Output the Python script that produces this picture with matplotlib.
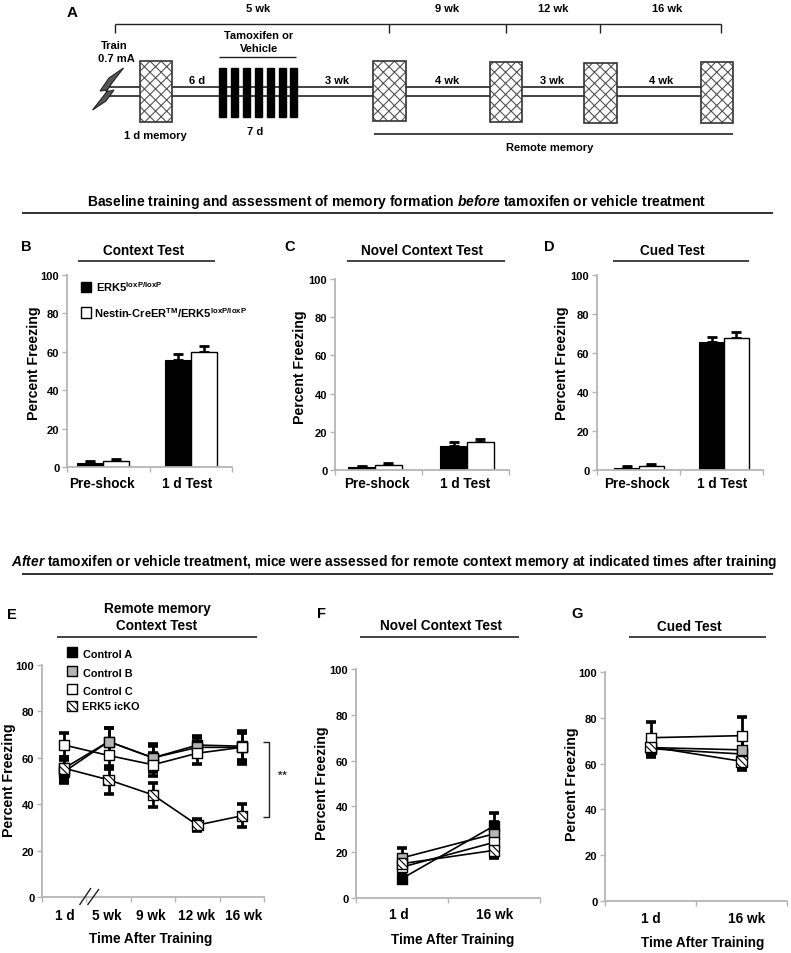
#!/usr/bin/python3
import matplotlib as mpl
mpl.use('Agg')
from matplotlib import pyplot as plt
from matplotlib.patches import Rectangle, Polygon

plt.rcParams['font.family'] = ['Liberation Sans', 'DejaVu Sans']
plt.rcParams['font.weight'] = 'bold'
plt.rcParams['mathtext.fontset'] = 'custom'
plt.rcParams['mathtext.rm'] = 'Liberation Sans:bold'
plt.rcParams['mathtext.it'] = 'Liberation Sans:italic:bold'
plt.rcParams['mathtext.bf'] = 'Liberation Sans:bold'
plt.rcParams['mathtext.default'] = 'rm'
plt.rcParams['hatch.linewidth'] = 0.8

W, H = 791, 954

# bar panels B, C, D
bar_groups = ['Pre-shock', '1 d Test']
b_black = [2.0, 55.5]
b_white = [3.2, 60.0]
b_black_err = [1.0, 3.3]
b_white_err = [0.8, 3.0]
c_black = [1.5, 12.7]
c_white = [2.8, 14.5]
c_black_err = [0.8, 2.0]
c_white_err = [0.8, 1.5]
d_black = [1.0, 65.5]
d_white = [2.2, 67.5]
d_black_err = [0.8, 2.8]
d_white_err = [0.8, 3.3]

# line panels E, F, G
e_times = ['1 d', '5 wk', '9 wk', '12 wk', '16 wk']
e_a = [54.0, 67.0, 60.0, 65.5, 65.0]
e_b = [55.5, 67.0, 60.0, 64.5, 64.5]
e_c = [65.5, 61.0, 57.0, 62.0, 64.5]
e_k = [55.5, 50.5, 44.0, 31.0, 35.0]
e_a_err = [5.0, 6.0, 6.0, 4.0, 6.0]
e_b_err = [5.0, 6.0, 5.0, 4.0, 6.0]
e_c_err = [5.0, 6.0, 5.0, 4.5, 7.0]
e_k_err = [4.5, 6.0, 5.0, 2.5, 5.0]

fg_times = ['1 d', '16 wk']
f_a = [8.5, 31.5]
f_b = [17.5, 28.0]
f_c = [13.5, 24.3]
f_k = [15.0, 20.8]
f_a_err = [2.0, 5.8]
f_b_err = [4.5, 5.0]
f_c_err = [3.0, 4.0]
f_k_err = [3.0, 3.3]

g_a = [66.5, 64.2]
g_b = [67.0, 66.0]
g_c = [71.3, 72.2]
g_k = [67.3, 61.0]
g_a_err = [3.8, 6.5]
g_b_err = [3.5, 6.0]
g_c_err = [6.8, 8.2]
g_k_err = [3.5, 3.6]

legend_names = ['Control A', 'Control B', 'Control C', 'ERK5 icKO']

# timeline panel A, all in picture pixels
week_ticks = [115, 389, 506, 600, 721]
week_labels = ['5 wk', '9 wk', '12 wk', '16 wk']
week_label_x = [258, 447, 553, 667]
test_boxes = [(140, 172, 62, 123), (373, 406, 62, 122), (490, 522, 63, 123), (584, 617, 64, 124), (701, 733, 63, 124)]
gap_labels = ['6 d', '3 wk', '4 wk', '3 wk', '4 wk']
gap_label_x = [197, 337, 447, 552, 661]
drug_days = [222, 234, 246, 258, 270, 282, 293.5]

fig = plt.figure(figsize=(W / 100, H / 100), dpi=100)
over = fig.add_axes([0, 0, 1, 1], zorder=5)
over.set_xlim(0, W)
over.set_ylim(H, 0)
over.axis('off')
over.patch.set_alpha(0)


def ptext(x, y, s, size=8, ha='center', **kw):
    over.text(x, y, s, fontsize=size, ha=ha, va='center', fontweight='bold', **kw)


def pline(xs, ys, lw=1.0, color='#222222'):
    over.plot(xs, ys, color=color, lw=lw, solid_capstyle='butt', clip_on=False)


def panel_axes(x0, x1, y0, y100, n):
    ax = fig.add_axes([x0 / W, 1 - y0 / H, (x1 - x0) / W, (y0 - y100) / H])
    ax.set_xlim(0, n)
    ax.set_ylim(0, 100)
    ax.patch.set_alpha(0)
    for s in ['top', 'right']:
        ax.spines[s].set_visible(False)
    for s in ['left', 'bottom']:
        ax.spines[s].set_color('#b5b5b5')
        ax.spines[s].set_linewidth(1.3)
    ax.set_xticks(range(n + 1))
    ax.set_xticklabels([])
    ax.set_yticks(range(0, 101, 20))
    ax.tick_params(color='#b5b5b5', width=1.0, length=3.5, labelsize=8, pad=2)
    return ax


def bar_panel(box, centers, width, black, white, black_err, white_err):
    ax = panel_axes(*box, 2)
    for i, c in enumerate(centers):
        ax.errorbar(c - width / 2, black[i], yerr=[[0], [black_err[i]]], color='k', elinewidth=1.8, capsize=3.5, capthick=2, zorder=1)
        ax.errorbar(c + width / 2, white[i], yerr=[[0], [white_err[i]]], color='k', elinewidth=1.8, capsize=3.5, capthick=2, zorder=1)
        ax.bar(c - width / 2, black[i], width, color='k', edgecolor='k', lw=0.8, zorder=2)
        ax.bar(c + width / 2, white[i], width, color='w', edgecolor='k', lw=1.0, zorder=2)
    return ax


def line_panel(box, centers, series, errs):
    ax = panel_axes(*box, len(centers))
    fills = ['k', '#b4b4b4', 'w', 'w']
    hatches = [None, None, None, '\\\\\\\\\\']
    for vals, err in zip(series, errs):
        ax.errorbar(centers, vals, yerr=err, color='k', lw=1.2, elinewidth=2.0, capsize=3.5, capthick=2.6, zorder=2, clip_on=False)
    for vals, fc, ht in zip(series, fills, hatches):
        ax.scatter(centers, vals, marker='s', s=58, facecolor=fc, edgecolor='k', linewidths=1.0, hatch=ht, zorder=3, clip_on=False)
    return ax


# A: timeline
ptext(72, 13, 'A', size=11)
pline(week_ticks[:1] + week_ticks[-1:], [25, 25])
for x in week_ticks:
    pline([x, x], [25, 34])
for x, s in zip(week_label_x, week_labels):
    ptext(x, 9, s, size=8)
for y in [87.5, 97]:
    pline([108, 733], [y, y], lw=1.2)
for x0, x1, y0, y1 in test_boxes:
    over.add_patch(Rectangle((x0, y0), x1 - x0, y1 - y0, facecolor='w', edgecolor='#555555', hatch='xxx', lw=0, zorder=3))
    over.add_patch(Rectangle((x0, y0), x1 - x0, y1 - y0, fill=False, edgecolor='#333333', lw=1.2, zorder=4))
for x in drug_days:
    over.add_patch(Rectangle((x - 3.5, 69), 7, 49, color='k', zorder=3))
pline([219, 296], [58, 58])
pline([374, 733], [135, 135], lw=1.2)
for x, s in zip(gap_label_x, gap_labels):
    ptext(x, 81, s, size=8)
ptext(259, 36, 'Tamoxifen or', size=8)
ptext(259, 49, 'Vehicle', size=8)
ptext(255, 132, '7 d', size=8)
ptext(155, 136, '1 d memory', size=8)
ptext(114, 46, 'Train', size=8)
ptext(116, 59, '0.7 mA', size=8)
ptext(550, 148, 'Remote memory', size=8)
bolt = [(123.5, 69), (109, 79), (100, 92), (108, 91), (102, 99), (92.5, 111), (106, 102), (114, 91), (106, 93), (112, 84)]
over.add_patch(Polygon(bolt, closed=True, facecolor='#555555', edgecolor='#222222', lw=0.8, zorder=4))

# section headings
ptext(397, 202, r'Baseline training and assessment of memory formation $\mathit{before}$ tamoxifen or vehicle treatment', size=10)
pline([22, 773], [214, 214], lw=1.3)
ptext(394, 562, r'$\mathit{After}$ tamoxifen or vehicle treatment, mice were assessed for remote context memory at indicated times after training', size=9.9)
pline([22, 773], [575, 575], lw=1.3)

# B, C, D
bar_panel((67, 232, 468, 276), [0.436, 1.503], 0.31, b_black, b_white, b_black_err, b_white_err)
bar_panel((335, 509, 471, 280), [0.46, 1.517], 0.305, c_black, c_white, c_black_err, c_white_err)
bar_panel((597, 763, 471, 276), [0.506, 1.53], 0.30, d_black, d_white, d_black_err, d_white_err)

for letter, lx, title, tx, x0, x1, ylx, yly, xs in [
        ('B', 26, 'Context Test', 144, 78, 215, 34, 363, (102, 187)),
        ('C', 290, 'Novel Context Test', 422, 347, 505, 300, 367, (377, 465)),
        ('D', 549, 'Cued Test', 672, 613, 749, 562, 363, (637, 722))]:
    ptext(lx, 247, letter, size=10.5)
    ptext(tx, 251, title, size=9.8)
    pline([x0, x1], [262, 262], lw=1.2)
    ptext(ylx, yly, 'Percent Freezing', size=10.2, rotation=90)
    for x, s in zip(xs, bar_groups):
        ptext(x, 484, s, size=9.8)

over.add_patch(Rectangle((81, 283), 10, 10, color='k'))
ptext(96, 287, r'ERK5$^{\mathrm{loxP/loxP}}$', size=8, ha='left')
over.add_patch(Rectangle((81, 308), 10, 11, facecolor='w', edgecolor='k', lw=1))
ptext(94, 313, r'Nestin-CreER$^{\mathrm{TM}}$/ERK5$^{\mathrm{loxP/loxP}}$', size=8, ha='left')

# E, F, G
line_panel((42, 264, 898, 666), [0.5, 1.5, 2.5, 3.5, 4.5], [e_a, e_b, e_c, e_k], [e_a_err, e_b_err, e_c_err, e_k_err])
line_panel((356, 540, 899, 670), [0.5, 1.5], [f_a, f_b, f_c, f_k], [f_a_err, f_b_err, f_c_err, f_k_err])
line_panel((605, 787, 902, 673), [0.5, 1.5], [g_a, g_b, g_c, g_k], [g_a_err, g_b_err, g_c_err, g_k_err])

ptext(12, 615, 'E', size=10.5)
ptext(157, 609, 'Remote memory', size=9.8)
ptext(157, 626, 'Context Test', size=9.8)
pline([57, 257], [638, 638], lw=1.2)
ptext(9, 780, 'Percent Freezing', size=10.2, rotation=90)
for x, s in zip([65, 107, 151, 197, 244], e_times):
    ptext(x, 916, s, size=9.8)
ptext(151, 939, 'Time After Training', size=9.8)
pline([79.5, 91], [906, 889])
pline([87.5, 99], [906, 890])
pline([263, 269, 269, 263], [743, 743, 818, 818], lw=1.0)
ptext(282, 776, '**', size=8, color='#333333')

ptext(322, 614, 'F', size=10.5)
ptext(441, 626, 'Novel Context Test', size=9.8)
pline([360, 519], [638, 638], lw=1.2)
ptext(322, 783, 'Percent Freezing', size=10.2, rotation=90)
for x, s in zip([399, 495], fg_times):
    ptext(x, 915, s, size=9.8)
ptext(453, 940, 'Time After Training', size=9.8)

ptext(577, 614, 'G', size=10.5)
ptext(689, 627, 'Cued Test', size=9.8)
pline([629, 766], [638, 638], lw=1.2)
ptext(572, 784, 'Percent Freezing', size=10.2, rotation=90)
for x, s in zip([651, 747], fg_times):
    ptext(x, 919, s, size=9.8)
ptext(703, 943, 'Time After Training', size=9.8)

leg_fc = ['k', '#b4b4b4', 'w', 'w']
leg_hatch = [None, None, None, '\\\\\\\\\\']
leg_y = [653, 672, 690, 707]
for y, fc, ht, s in zip(leg_y, leg_fc, leg_hatch, legend_names):
    over.scatter([72], [y], marker='s', s=62, facecolor=fc, edgecolor='k', linewidths=1.0, hatch=ht)
    ptext(83 if ht is None else 82, y + 2 if ht is None else y, s, size=7.8, ha='left')

fig.savefig('out.png', dpi=100)
